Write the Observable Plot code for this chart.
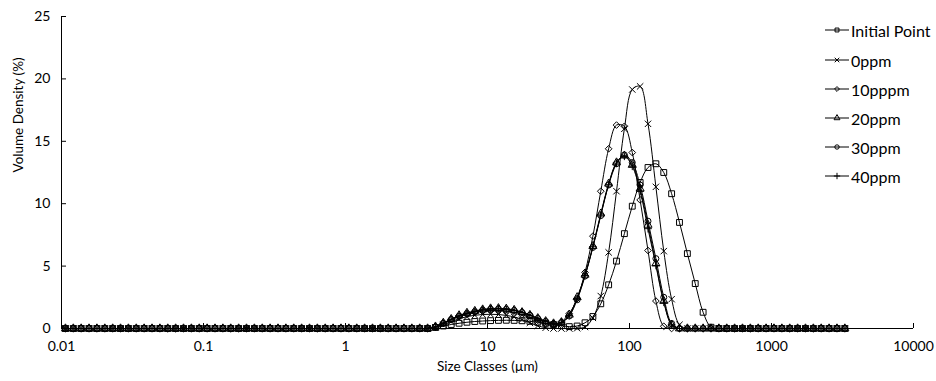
<!DOCTYPE html>
<html>
<head>
<meta charset="utf-8">
<script src="https://cdn.jsdelivr.net/npm/d3@7"></script>
<script src="https://cdn.jsdelivr.net/npm/@observablehq/plot@0.6"></script>
<style>
  html, body { margin: 0; padding: 0; background: #fff; }
  #wrap { position: relative; width: 936px; height: 381px; font-family: Lato, "Liberation Sans", sans-serif; }
  #legend { position: absolute; left: 824px; top: 0; font-size: 16px; color: #000; }
  .item { position: absolute; left: 0; height: 20px; display: flex; align-items: center; white-space: nowrap; }
  .item svg { display: block; margin-right: 1px; }
</style>
</head>
<body>
<div id="wrap"><div id="legend"></div></div>
<script>
// Size classes (µm), geometric centre of each measurement class
const sizes = [
  0.01066, 0.01211, 0.01376, 0.01563, 0.01776, 0.02018, 0.02293, 0.02605, 0.02959, 0.03362,
  0.03820, 0.04340, 0.04931, 0.05602, 0.06365, 0.07231, 0.08216, 0.09334, 0.1061, 0.1205,
  0.1369, 0.1556, 0.1768, 0.2008, 0.2282, 0.2593, 0.2946, 0.3347, 0.3802, 0.4320,
  0.4909, 0.5577, 0.6336, 0.7199, 0.8179, 0.9293, 1.056, 1.200, 1.363, 1.549,
  1.760, 1.999, 2.271, 2.580, 2.932, 3.331, 3.785, 4.300, 4.885, 5.550,
  6.306, 7.165, 8.140, 9.249, 10.51, 11.94, 13.56, 15.41, 17.51, 19.89,
  22.60, 25.68, 29.18, 33.15, 37.66, 42.79, 48.62, 55.24, 62.76, 71.30,
  81.01, 92.04, 104.6, 118.8, 135.0, 153.4, 174.3, 198.0, 224.9, 255.6,
  290.4, 329.9, 374.8, 425.9, 483.9, 549.8, 624.6, 709.6, 806.3, 916.1,
  1041, 1183, 1344, 1527, 1735, 1971, 2239, 2544, 2891, 3284
];

// Volume density (%) per class
const initialPoint = [
  0,0,0,0,0,0,0,0,0,0, 0,0,0,0,0,0,0,0,0,0, 0,0,0,0,0,0,0,0,0,0, 0,0,0,0,0,0,0,0,0,0, 0,0,0,0,0,0,0,
  0.08,0.2,0.32,0.42,0.5,0.56,0.6,0.63,0.65,0.66,0.65,0.62,0.57,0.5,0.42,0.32,0.22,0.15,0.2,0.46,
  0.96,1.98,3.5,5.4,7.6,9.8,11.7,12.9,13.2,12.5,10.8,8.5,6.0,3.6,1.3,0.1,
  0,0,0,0,0,0,0,0,0,0,0,0,0,0,0,0,0
];
const ppm0 = [
  0,0,0,0,0,0,0,0,0,0, 0,0,0,0,0,0,0,0,0,0, 0,0,0,0,0,0,0,0,0,0, 0,0,0,0,0,0,0,0,0,0, 0,0,0,0,0,0,0,
  0.1,0.3,0.55,0.78,0.95,1.06,1.12,1.14,1.12,1.05,0.92,0.72,0.45,0.22,0.06,
  0,0,0,0.02,0.12,0.85,2.6,6.1,11.0,16.0,19.15,19.4,16.4,11.35,6.2,2.35,0.3,0,0,0,0,
  0,0,0,0,0,0,0,0,0,0,0,0,0,0,0,0,0
];
const ppm10 = [
  0,0,0,0,0,0,0,0,0,0, 0,0,0,0,0,0,0,0,0,0, 0,0,0,0,0,0,0,0,0,0, 0,0,0,0,0,0,0,0,0,0, 0,0,0,0,0,0,0,
  0.12,0.4,0.7,0.95,1.15,1.3,1.4,1.45,1.45,1.4,1.3,1.12,0.9,0.65,0.42,
  0.3,0.55,1.2,2.4,4.5,7.4,11.0,14.4,16.3,16.2,14.1,10.3,6.25,2.2,0.18,0,0,0,0,0,0,
  0,0,0,0,0,0,0,0,0,0,0,0,0,0,0,0,0
];
const ppm20 = [
  0,0,0,0,0,0,0,0,0,0, 0,0,0,0,0,0,0,0,0,0, 0,0,0,0,0,0,0,0,0,0, 0,0,0,0,0,0,0,0,0,0, 0,0,0,0,0,0,0,
  0.15,0.45,0.75,1.05,1.25,1.4,1.52,1.6,1.62,1.58,1.48,1.3,1.08,0.82,0.58,
  0.4,0.5,1.1,2.5,4.3,6.6,9.2,11.6,13.3,13.85,13.1,11.2,8.3,5.2,2.2,0.3,0,0,0,0,0,
  0,0,0,0,0,0,0,0,0,0,0,0,0,0,0,0,0
];
const ppm30 = [
  0,0,0,0,0,0,0,0,0,0, 0,0,0,0,0,0,0,0,0,0, 0,0,0,0,0,0,0,0,0,0, 0,0,0,0,0,0,0,0,0,0, 0,0,0,0,0,0,0,
  0.12,0.42,0.72,1.0,1.2,1.35,1.47,1.54,1.56,1.53,1.44,1.28,1.06,0.8,0.56,
  0.38,0.45,1.0,2.3,4.2,6.5,9.05,11.5,13.2,13.9,13.3,11.5,8.6,5.6,2.5,0.4,0,0,0,0,0,
  0,0,0,0,0,0,0,0,0,0,0,0,0,0,0,0,0
];
const ppm40 = [
  0,0,0,0,0,0,0,0,0,0, 0,0,0,0,0,0,0,0,0,0, 0,0,0,0,0,0,0,0,0,0, 0,0,0,0,0,0,0,0,0,0, 0,0,0,0,0,0,0,
  0.14,0.44,0.74,1.02,1.22,1.38,1.5,1.57,1.59,1.55,1.46,1.3,1.07,0.81,0.57,
  0.39,0.48,1.05,2.4,4.25,6.55,9.1,11.55,13.25,13.8,13.0,11.0,8.0,5.05,2.1,0.3,0,0,0,0,0,
  0,0,0,0,0,0,0,0,0,0,0,0,0,0,0,0,0
];

const seriesNames = ["Initial Point", "0ppm", "10pppm", "20ppm", "30ppm", "40ppm"];
const seriesValues = [initialPoint, ppm0, ppm10, ppm20, ppm30, ppm40];

const xTicks = [0.01, 0.1, 1, 10, 100, 1000, 10000];
const xTickLabels = ["0.01", "0.1", "1", "10", "100", "1000", "10000"];
const yTicks = [0, 5, 10, 15, 20, 25];

// styling (not data)
const styles = [
  {symbol: "square", r: 3.3, d3sym: d3.symbolSquare},
  {symbol: "times", r: 3.0, d3sym: d3.symbolTimes},
  {symbol: "diamond2", r: 3.0, d3sym: d3.symbolDiamond2},
  {symbol: "triangle", r: 3.0, d3sym: d3.symbolTriangle},
  {symbol: "circle", r: 3.0, d3sym: d3.symbolCircle},
  {symbol: "plus", r: 2.6, d3sym: d3.symbolPlus}
];

const marks = [];
seriesNames.forEach((name, k) => {
  const rows = sizes.map((x, i) => ({x, y: seriesValues[k][i], name}));
  const st = styles[k];
  marks.push(Plot.line(rows, {x: "x", y: "y", curve: "catmull-rom", stroke: "black", strokeWidth: 1}));
  marks.push(Plot.dot(rows, {x: "x", y: "y", symbol: () => st.symbol, r: st.r, fill: "none", stroke: "black", strokeWidth: 1}));
});

const chart = Plot.plot({
  width: 936,
  height: 381,
  marginLeft: 61,
  marginRight: 23,
  marginTop: 16,
  marginBottom: 53,
  style: {fontFamily: "Lato, 'Liberation Sans', sans-serif", fontSize: "14px", color: "#000", background: "transparent"},
  x: {type: "log", domain: [0.01, 10000]},
  y: {domain: [0, 25]},
  marks: [
    Plot.ruleY([0], {stroke: "black"}),
    Plot.ruleX([0.01], {stroke: "black"}),
    Plot.tickX(xTicks, {x: d => d, insetTop: 307, stroke: "black"}),
    Plot.tickY(yTicks, {y: d => d, insetRight: 847, stroke: "black"}),
    Plot.axisX(xTicks, {tickSize: 0, tickPadding: 13, label: null, tickFormat: d => xTickLabels[xTicks.indexOf(d)], fontSize: 14}),
    Plot.axisY(yTicks, {tickSize: 0, tickPadding: 11, label: null, fontSize: 14}),
    Plot.text(["Size Classes (µm)"], {frameAnchor: "bottom", dy: 42, fontSize: 13.5}),
    Plot.text(["Volume Density (%)"], {frameAnchor: "left", rotate: -90, dx: -43, fontSize: 13.5}),
    ...marks
  ]
});
document.getElementById("wrap").prepend(chart);

// legend
const legend = document.getElementById("legend");
const legendY = [30, 60, 89, 118, 147, 176];
seriesNames.forEach((name, k) => {
  const item = document.createElement("div");
  item.className = "item";
  item.style.top = (legendY[k] - 10) + "px";
  const svg = d3.create("svg").attr("width", 26).attr("height", 12);
  svg.append("line").attr("x1", 1).attr("x2", 25).attr("y1", 6).attr("y2", 6).attr("stroke", "black").attr("stroke-width", 1);
  svg.append("path")
    .attr("transform", "translate(13,6)")
    .attr("d", d3.symbol(styles[k].d3sym, Math.PI * 2.2 * 2.2)())
    .attr("fill", "none").attr("stroke", "black").attr("stroke-width", 1);
  item.appendChild(svg.node());
  const span = document.createElement("span");
  span.textContent = name;
  item.appendChild(span);
  legend.appendChild(item);
});
</script>
</body>
</html>
